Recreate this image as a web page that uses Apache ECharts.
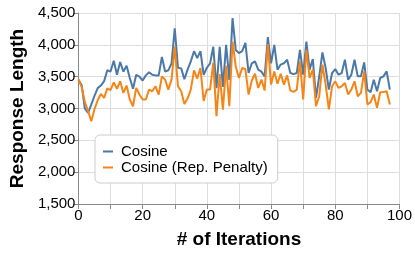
<!DOCTYPE html>
<html><head><meta charset="utf-8">
<script src="https://cdn.jsdelivr.net/npm/echarts@6/dist/echarts.min.js"></script>
<style>html,body{margin:0;padding:0;background:#fff}#c{width:415px;height:254px}</style>
</head><body><div id="c"></div>
<script>
const iterations = Array.from({length: 98}, (_, i) => i);
const cosine = [3450,3370,3000,2930,3060,3200,3320,3360,3430,3600,
3580,3750,3530,3730,3580,3670,3480,3310,3530,3500,
3440,3520,3570,3530,3520,3520,3810,3580,3600,3710,
4260,3640,3630,3460,3610,3740,3900,3790,3900,3530,
3640,3710,3970,3320,3970,3340,4000,3450,4420,3920,
3870,3900,4030,3560,3710,3740,3610,3580,3505,4120,
3710,4000,3610,3690,3710,3766,3557,3540,3557,3922,
3531,4052,3610,3776,3167,3505,3880,3636,3297,3557,
3620,3531,3557,3766,3453,3531,3766,3505,3505,3724,
3297,3255,3453,3271,3479,3505,3583,3297];
const cosineRep = [3460,3340,3100,2960,2800,2990,3130,3230,3167,3315,
3290,3411,3310,3427,3245,3360,3141,3036,3323,3219,
3141,3141,3297,3271,3349,3219,3505,3453,3297,3453,
3974,3349,3271,3070,3160,3297,3600,3470,3636,3120,
3297,3297,3720,2880,3540,2980,3670,3036,4052,3660,
3479,3635,3620,3219,3440,3545,3323,3453,3285,4010,
3375,3583,3390,3545,3375,3520,3285,3260,3297,3740,
3141,3922,3479,3610,3036,3193,3688,3375,2985,3349,
3427,3323,3349,3401,3219,3297,3427,3193,3245,3583,
3063,3100,3219,3010,3255,3260,3271,3063];
const seriesNames = ['Cosine', 'Cosine (Rep. Penalty)'];
const yTicks = [1500, 2000, 2500, 3000, 3500, 4000, 4500];
const xTicks = [0, 20, 40, 60, 80, 100];

const font = '"Liberation Sans", Arial, sans-serif';
const chart = echarts.init(document.getElementById('c'), null, {renderer: 'canvas'});
chart.setOption({
  animation: false,
  grid: {left: 74.5, right: 5.5, top: 13, bottom: 49.3},
  color: ['#4c78a8', '#f58518'],
  legend: {
    orient: 'vertical', left: 95, top: 135,
    padding: [9, 10, 8, 8],
    backgroundColor: '#fff', borderColor: '#ccc', borderWidth: 1, borderRadius: 5,
    icon: 'rect', itemWidth: 10, itemHeight: 2, itemGap: 1,
    textStyle: {fontFamily: font, fontSize: 15, color: '#000', padding: [0, 0, 0, 3], lineHeight: 15},
    data: seriesNames
  },
  xAxis: {
    type: 'value', min: 0, max: 100, interval: 10,
    name: '# of Iterations', nameLocation: 'middle', nameGap: 26,
    nameTextStyle: {fontFamily: font, fontSize: 19, fontWeight: 'bold', color: '#000'},
    axisLine: {show: true, onZero: false, lineStyle: {color: '#888', width: 1}},
    axisTick: {show: true, length: 5, lineStyle: {color: '#888'}},
    axisLabel: {fontFamily: font, fontSize: 15, color: '#000', margin: 4,
      formatter: v => xTicks.includes(v) ? String(v) : ''},
    splitLine: {show: true, lineStyle: {color: '#ddd', width: 1}}
  },
  yAxis: {
    type: 'value', min: 1500, max: 4500, interval: 500,
    name: 'Response Length', nameLocation: 'middle', nameGap: 50,
    nameTextStyle: {fontFamily: font, fontSize: 19, fontWeight: 'bold', color: '#000'},
    axisLine: {show: true, lineStyle: {color: '#888', width: 1}},
    axisTick: {show: true, length: 5, lineStyle: {color: '#888'}},
    axisLabel: {fontFamily: font, fontSize: 15, color: '#000', margin: 3,
      formatter: v => yTicks.includes(v) ? v.toLocaleString('en-US') : ''},
    splitLine: {show: true, lineStyle: {color: '#ddd', width: 1}}
  },
  series: [
    {name: seriesNames[0], type: 'line', data: iterations.map((x, i) => [x, cosine[i]]),
     showSymbol: false, lineStyle: {width: 2}, z: 2},
    {name: seriesNames[1], type: 'line', data: iterations.map((x, i) => [x, cosineRep[i]]),
     showSymbol: false, lineStyle: {width: 2}, z: 3}
  ]
});
</script></body></html>
